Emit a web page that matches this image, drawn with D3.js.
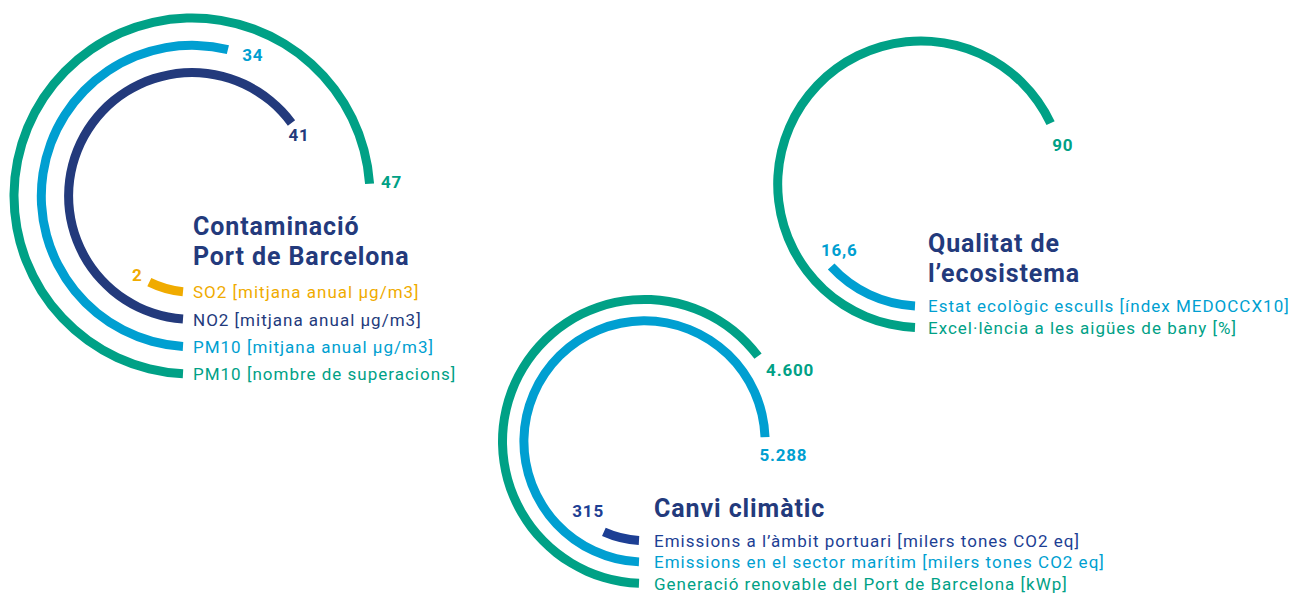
<!DOCTYPE html>
<html lang="ca">
<head>
<meta charset="utf-8">
<title>Indicadors Port de Barcelona</title>
<script src="https://d3js.org/d3.v7.min.js"></script>
<style>
  body { margin: 0; background: #fff; }
  svg { display: block; font-family: Roboto, "Noto Sans", sans-serif; }
  .title { font-weight: 700; fill: #233a7c; font-size: 25px; letter-spacing: 0.9px; }
  .legend { font-weight: 400; font-size: 17px; letter-spacing: 1px; }
  .val { font-weight: 700; font-size: 17px; letter-spacing: 0.8px; }
</style>
</head>
<body>
<svg width="1291" height="599"></svg>
<script>
// ---- data (inner ring first = top legend row first) ----
var contTitle = ["Contaminació", "Port de Barcelona"];
var contLabels = ["SO2 [mitjana anual µg/m3]", "NO2 [mitjana anual µg/m3]", "PM10 [mitjana anual µg/m3]", "PM10 [nombre de superacions]"];
var contValues = [2, 41, 34, 47];

var ecoTitle = ["Qualitat de", "l’ecosistema"];
var ecoLabels = ["Estat ecològic esculls [índex MEDOCCX10]", "Excel·lència a les aigües de bany [%]"];
var ecoValues = [16.6, 90];

var climaTitle = ["Canvi climàtic"];
var climaLabels = ["Emissions a l’àmbit portuari [milers tones CO2 eq]", "Emissions en el sector marítim [milers tones CO2 eq]", "Generació renovable del Port de Barcelona [kWp]"];
var climaValues = [315, 5288, 4600];

var yellow = "#f0ab00", navy = "#233a7c", cyan = "#009fd1", green = "#00a186";

// catalan number format: 4.600 / 16,6
var fmt = d3.formatLocale({decimal: ",", thousands: ".", grouping: [3], currency: ["", "€"]}).format(",");

var svg = d3.select("svg");

// layout of each block
var blocks = [
  {title: contTitle, labels: contLabels, values: contValues, colors: [yellow, navy, cyan, green],
   cx: 192, cy: 196, r0: 178, step: 27.3, full: 64.3, off: 9, tx: 193, ty: 235,
   gap: [14, 14, 25, 0], dr: [0, 0, 3, 22]},
  {title: ecoTitle, labels: ecoLabels, values: ecoValues, colors: [cyan, green],
   cx: 921, cy: 184.3, r0: 143.3, step: 21.5, full: 133.7, off: 6, tx: 928, ty: 252,
   gap: [8, 24], dr: [-17, 4]},
  {title: climaTitle, labels: climaLabels, values: climaValues, colors: ["#1d3f94", cyan, green],
   cx: 644.5, cy: 441.4, r0: 142, step: 21.4, full: 7173, off: 5.5, tx: 654, ty: 517,
   gap: [26, 16, 27], dr: [-10, 19, 20]}
];

var minSweep = 21 * Math.PI / 180;  // keep tiny values visible
var bw = 9;

blocks.forEach(function(b) {
  var g = svg.append("g");
  var n = b.values.length;
  var angle = d3.scaleLinear().domain([0, b.full]).range([0, 2 * Math.PI]);
  var radius = d3.scaleLinear().domain([n - 1, 0]).range([b.r0, b.r0 - (n - 1) * b.step]);

  var rows = b.values.map(function(v, i) {
    var r = radius(i);
    var a0 = Math.PI + Math.asin(b.off / r);
    var a1 = a0 + Math.max(minSweep, angle(v));
    return {v: v, i: i, r: r, a0: a0, a1: a1, color: b.colors[i], label: b.labels[i]};
  });

  var arc = d3.arc()
    .innerRadius(function(d) { return d.r - bw / 2; })
    .outerRadius(function(d) { return d.r + bw / 2; })
    .startAngle(function(d) { return d.a0; })
    .endAngle(function(d) { return d.a1; });

  g.selectAll("path").data(rows).enter().append("path")
    .attr("transform", "translate(" + b.cx + "," + b.cy + ")")
    .attr("d", arc)
    .attr("fill", function(d) { return d.color; });

  // value labels just past the arc end
  g.selectAll(".val").data(rows).enter().append("text")
    .attr("class", "val")
    .attr("text-anchor", "middle")
    .attr("dominant-baseline", "central")
    .attr("fill", function(d) { return d.color; })
    .attr("x", function(d) {
      var a = d.a1 + b.gap[d.i] / d.r, rr = d.r + b.dr[d.i];
      return b.cx + rr * Math.sin(a);
    })
    .attr("y", function(d) {
      var a = d.a1 + b.gap[d.i] / d.r, rr = d.r + b.dr[d.i];
      return b.cy - rr * Math.cos(a);
    })
    .text(function(d) { return fmt(d.v); });

  // legend rows next to the start of each bar
  g.selectAll(".legend").data(rows).enter().append("text")
    .attr("class", "legend")
    .attr("x", b.tx)
    .attr("y", function(d) { return b.cy + d.r + 6.3; })
    .attr("fill", function(d) { return d.color; })
    .text(function(d) { return d.label; });

  g.selectAll(".title").data(b.title).enter().append("text")
    .attr("class", "title")
    .attr("x", b.tx)
    .attr("y", function(d, i) { return b.ty + i * 30; })
    .text(function(d) { return d; });
});
</script>
</body>
</html>
